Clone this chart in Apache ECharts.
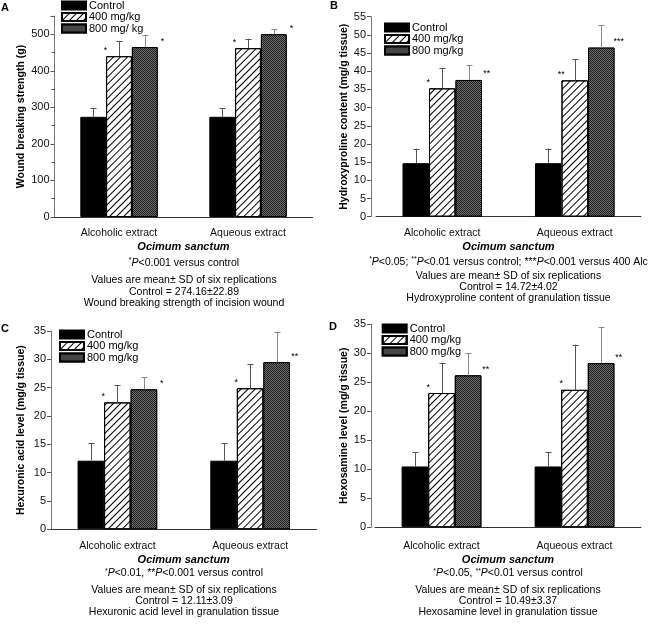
<!DOCTYPE html>
<html><head><meta charset="utf-8">
<script src="https://cdn.jsdelivr.net/npm/echarts@6/dist/echarts.min.js"></script>
<style>html,body{margin:0;padding:0;background:#fff}#c{width:649px;height:624px}</style>
</head><body><div id="c"></div><script>
// ---------- data ----------
const categories = ['Alcoholic extract', 'Aqueous extract'];
const groupNamesA = ['Control', '400 mg/kg', '800 mg/ kg'];
const groupNames = ['Control', '400 mg/kg', '800 mg/kg'];

// A: wound breaking strength (g)
const woundControl = [274.16, 274.16];
const wound400 = [440, 462];
const wound800 = [465, 500];
const woundControlSD = [22.89, 22.89];
const wound400SD = [42, 26];
const wound800SD = [34, 15];
const woundStars400 = ['*', '*'];
const woundStars800 = ['*', '*'];

// B: hydroxyproline (mg/g tissue)
const hydroControl = [14.72, 14.72];
const hydro400 = [35.3, 37.5];
const hydro800 = [37.6, 46.5];
const hydroControlSD = [4.02, 4.02];
const hydro400SD = [5.5, 5.8];
const hydro800SD = [4.1, 6.1];
const hydroStars400 = ['*', '**'];
const hydroStars800 = ['**', '***'];

// C: hexuronic acid (mg/g tissue)
const hexuControl = [12.11, 12.11];
const hexu400 = [22.4, 24.9];
const hexu800 = [24.7, 29.5];
const hexuControlSD = [3.09, 3.09];
const hexu400SD = [3.0, 4.3];
const hexu800SD = [2.1, 5.3];
const hexuStars400 = ['*', '*'];
const hexuStars800 = ['*', '**'];

// D: hexosamine (mg/g tissue)
const hexoControl = [10.49, 10.49];
const hexo400 = [23.15, 23.7];
const hexo800 = [26.2, 28.3];
const hexoControlSD = [2.45, 2.45];
const hexo400SD = [5.1, 7.8];
const hexo800SD = [3.8, 6.2];
const hexoStars400 = ['*', '*'];
const hexoStars800 = ['**', '**'];

// ---------- styling / layout ----------
const FONT = '"Liberation Sans", Arial, Helvetica, sans-serif';
const BAR_RATIO = 0.2;

const styles = [
  { color: '#000', borderColor: '#000', borderWidth: 1 },
  { color: '#fff', borderColor: '#000', borderWidth: 1,
    decal: { symbol: 'rect', symbolSize: 1, dashArrayX: [1, 0], dashArrayY: [1, 3.4], rotation: -Math.PI / 4, color: '#000' } },
  { color: '#1e1e1e', borderColor: '#000', borderWidth: 1,
    decal: { symbol: 'rect', symbolSize: 1, dashArrayX: [[1, 1], [0, 1, 1, 0]], dashArrayY: [1, 0], color: '#6e6e6e' } }
];

const panels = [
  { letter: 'A', grid: { left: 54.5, top: 16, width: 258, height: 201 }, max: 550, interval: 100, minor: true,
    yName: 'Wound breaking strength (g)', yNameGap: 28, yOffset: 0, xNameGap: 24, labelMargin: 11,
    names: groupNamesA, means: [woundControl, wound400, wound800], sds: [woundControlSD, wound400SD, wound800SD],
    stars: [['', ''], woundStars400, woundStars800], legend: { left: 61, top: 0 } },
  { letter: 'B', grid: { left: 376, top: 16.7, width: 265, height: 200 }, max: 55, interval: 5, minor: false,
    yName: 'Hydroxyproline content (mg/g tissue)', yNameGap: 18, yOffset: 5, xNameGap: 25, labelMargin: 11,
    names: groupNames, means: [hydroControl, hydro400, hydro800], sds: [hydroControlSD, hydro400SD, hydro800SD],
    stars: [['', ''], hydroStars400, hydroStars800], legend: { left: 384, top: 22 } },
  { letter: 'C', grid: { left: 51, top: 331, width: 265.5, height: 198.3 }, max: 35, interval: 5, minor: false,
    yName: 'Hexuronic acid level (mg/g tissue)', yNameGap: 24, yOffset: 0, xNameGap: 25, labelMargin: 11,
    names: groupNames, means: [hexuControl, hexu400, hexu800], sds: [hexuControlSD, hexu400SD, hexu800SD],
    stars: [['', ''], hexuStars400, hexuStars800], legend: { left: 59, top: 329 } },
  { letter: 'D', grid: { left: 375, top: 324.3, width: 266, height: 203 }, max: 35, interval: 5, minor: false,
    yName: 'Hexosamine level (mg/g tissue)', yNameGap: 20, yOffset: 4, xNameGap: 27, labelMargin: 13,
    names: groupNames, means: [hexoControl, hexo400, hexo800], sds: [hexoControlSD, hexo400SD, hexo800SD],
    stars: [['', ''], hexoStars400, hexoStars800], legend: { left: 381.7, top: 323 } }
];

const grids = [], xAxes = [], yAxes = [], series = [], legends = [];
panels.forEach((p, gi) => {
  grids.push(Object.assign({ containLabel: false }, p.grid));
  xAxes.push({
    gridIndex: gi, type: 'category', data: categories,
    axisLine: { lineStyle: { color: '#333', width: 1 } },
    axisTick: { alignWithLabel: true, length: 5, lineStyle: { color: '#777' } },
    axisLabel: { fontFamily: FONT, fontSize: 10.5, color: '#111', margin: p.labelMargin },
    name: 'Ocimum sanctum', nameLocation: 'middle', nameGap: p.xNameGap,
    nameTextStyle: { fontFamily: FONT, fontSize: 11, fontWeight: 'bold', fontStyle: 'italic', color: '#000' }
  });
  yAxes.push({
    gridIndex: gi, type: 'value', min: 0, max: p.max, interval: p.interval, offset: p.yOffset,
    axisLine: { show: true, lineStyle: { color: '#777', width: 1 } },
    axisTick: { show: true, length: 4, lineStyle: { color: '#555' } },
    minorTick: { show: p.minor, splitNumber: 2, length: 3, lineStyle: { color: '#555' } },
    splitLine: { show: false },
    axisLabel: { fontFamily: FONT, fontSize: 11, color: '#111', margin: 5, showMaxLabel: p.max % p.interval === 0 },
    name: p.yName, nameLocation: 'middle', nameGap: p.yNameGap,
    nameTextStyle: { fontFamily: FONT, fontSize: 10.5, fontWeight: 'bold', color: '#000' }
  });
  for (let b = 0; b < 3; b++) {
    series.push({
      type: 'bar', name: p.names[b], xAxisIndex: gi, yAxisIndex: gi,
      data: p.means[b], barWidth: (BAR_RATIO * 100) + '%', barGap: '0%',
      itemStyle: styles[b], emphasis: { disabled: true }, silent: true
    });
  }
  const errData = [], starText = [];
  for (let c = 0; c < categories.length; c++) {
    for (let b = 0; b < 3; b++) {
      errData.push([c, p.means[b][c], p.sds[b][c], b]);
      starText.push(p.stars[b][c]);
    }
  }
  series.push({
    type: 'custom', xAxisIndex: gi, yAxisIndex: gi, data: errData, silent: true, z: 5,
    renderItem: function (params, api) {
      const c = api.value(0), m = api.value(1), sd = api.value(2), b = api.value(3);
      const band = api.size([1, 0])[0];
      const bw = band * BAR_RATIO;
      const base = api.coord([c, m]);
      const x = Math.round(base[0] + (b - 1) * bw) + 0.5;
      const yTop = base[1];
      const yErr = api.coord([c, m + sd])[1];
      const col = b === 2 ? '#888' : '#555';
      const children = [
        { type: 'line', shape: { x1: x, y1: yTop, x2: x, y2: yErr }, style: { stroke: col, lineWidth: 1 } },
        { type: 'line', shape: { x1: x - 3, y1: Math.round(yErr) + 0.5, x2: x + 3, y2: Math.round(yErr) + 0.5 }, style: { stroke: col, lineWidth: 1 } }
      ];
      const s = starText[params.dataIndex];
      if (s) {
        const sx = b === 1 ? x - bw / 2 - 1 : x + bw / 2 + 4;
        children.push({ type: 'text', x: sx, y: yTop - 6,
          style: { text: s, font: '9px ' + FONT, fill: '#000', align: 'center', verticalAlign: 'middle' } });
      }
      return { type: 'group', children: children };
    }
  });
  legends.push({
    orient: 'vertical', left: p.legend.left, top: p.legend.top, padding: 0, itemGap: 0.5,
    itemWidth: 24, itemHeight: 8, icon: 'rect', data: p.names, selectedMode: false,
    textStyle: { fontFamily: FONT, fontSize: 11, color: '#000', lineHeight: 11, padding: [0, 0, 0, -2] }
  });
});

// ---------- annotation texts below panels ----------
const rich = {
  t: { fontFamily: FONT, fontSize: 10.5, color: '#000' },
  i: { fontFamily: FONT, fontSize: 10.5, fontStyle: 'italic', color: '#000' },
  sup: { fontFamily: FONT, fontSize: 7, color: '#000', verticalAlign: 'top', lineHeight: 12 }
};
const notes = [
  { cx: 184, y0: 217, d: [46, 63, 75, 86],
    note: '{sup|*}{i|P}{t|<0.001 versus control}',
    control: 'Control = 274.16\u00b122.89', desc: 'Wound breaking strength of incision wound' },
  { cx: 508.5, y0: 216.7, d: [45.3, 59.3, 70.3, 81.3],
    note: '{sup|*}{i|P}{t|<0.05; }{sup|**}{i|P}{t|<0.01 versus control; ***}{i|P}{t|<0.001 versus 400 Alc}',
    control: 'Control = 14.72\u00b14.02', desc: 'Hydroxyproline content of granulation tissue' },
  { cx: 184, y0: 529.3, d: [44, 60.7, 71.4, 82.4],
    note: '{sup|*}{i|P}{t|<0.01, **}{i|P}{t|<0.001 versus control}',
    control: 'Control = 12.11\u00b13.09', desc: 'Hexuronic acid level in granulation tissue' },
  { cx: 508, y0: 527.3, d: [46, 62.7, 73.4, 84.4],
    note: '{sup|*}{i|P}{t|<0.05, }{sup|**}{i|P}{t|<0.01 versus control}',
    control: 'Control = 10.49\u00b13.37', desc: 'Hexosamine level in granulation tissue' }
];
const graphics = [];
notes.forEach(n => {
  graphics.push({ type: 'text', x: n.cx, y: n.y0 + n.d[0], style: { text: n.note, rich: rich, align: 'center', verticalAlign: 'middle' } });
  graphics.push({ type: 'text', x: n.cx, y: n.y0 + n.d[1], style: { text: 'Values are mean\u00b1 SD of six replications', font: '10.5px ' + FONT, fill: '#000', align: 'center', verticalAlign: 'middle' } });
  graphics.push({ type: 'text', x: n.cx, y: n.y0 + n.d[2], style: { text: n.control, font: '10.5px ' + FONT, fill: '#000', align: 'center', verticalAlign: 'middle' } });
  graphics.push({ type: 'text', x: n.cx, y: n.y0 + n.d[3], style: { text: n.desc, font: '10.5px ' + FONT, fill: '#000', align: 'center', verticalAlign: 'middle' } });
});
[[5, 7.5, 'A'], [334, 6, 'B'], [5, 329, 'C'], [333, 327, 'D']].forEach(l => {
  graphics.push({ type: 'text', x: l[0], y: l[1], style: { text: l[2], font: 'bold 11px ' + FONT, fill: '#000', align: 'center', verticalAlign: 'middle' } });
});

const chart = echarts.init(document.getElementById('c'), null, { renderer: 'canvas' });
chart.setOption({
  animation: false,
  backgroundColor: '#fff',
  textStyle: { fontFamily: FONT },
  grid: grids, xAxis: xAxes, yAxis: yAxes, series: series, legend: legends,
  graphic: graphics
});
</script></body></html>
